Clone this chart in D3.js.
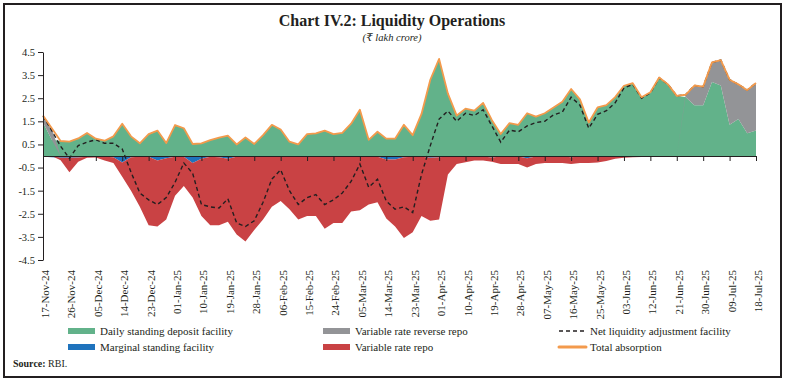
<!DOCTYPE html>
<html>
<head>
<meta charset="utf-8">
<script src="https://cdn.jsdelivr.net/npm/d3@7"></script>
<style>
body{margin:0;background:#fff;}
text{font-family:"Liberation Serif","DejaVu Serif",serif;fill:#231f20;}
</style>
</head>
<body>
<svg id="chart" width="785" height="384"></svg>
<script>
// ---------------------------------------------- DATA (lakh crore) ----------------------------------------------
var DATES = ["2024-11-17","2024-11-20","2024-11-23","2024-11-26","2024-11-29",
	"2024-12-02","2024-12-05","2024-12-08","2024-12-11","2024-12-14","2024-12-17","2024-12-20","2024-12-23","2024-12-26","2024-12-29",
	"2025-01-01","2025-01-04","2025-01-07","2025-01-10","2025-01-13","2025-01-16","2025-01-19","2025-01-22","2025-01-25","2025-01-28","2025-01-31",
	"2025-02-03","2025-02-06","2025-02-09","2025-02-12","2025-02-15","2025-02-18","2025-02-21","2025-02-24","2025-02-27",
	"2025-03-02","2025-03-05","2025-03-08","2025-03-11","2025-03-14","2025-03-17","2025-03-20","2025-03-23","2025-03-26","2025-03-29",
	"2025-04-01","2025-04-04","2025-04-07","2025-04-10","2025-04-13","2025-04-16","2025-04-19","2025-04-22","2025-04-25","2025-04-28",
	"2025-05-01","2025-05-04","2025-05-07","2025-05-10","2025-05-13","2025-05-16","2025-05-19","2025-05-22","2025-05-25","2025-05-28","2025-05-31",
	"2025-06-03","2025-06-06","2025-06-09","2025-06-12","2025-06-15","2025-06-18","2025-06-21","2025-06-24","2025-06-27","2025-06-30",
	"2025-07-03","2025-07-06","2025-07-09","2025-07-12","2025-07-15","2025-07-18"];

// daily standing deposit facility
var SDF = [1.45,0.70,0.65,0.62,0.76,1.00,0.75,0.66,0.85,1.40,
	0.85,0.55,0.95,1.10,0.56,1.34,1.20,0.52,0.55,0.69,
	0.80,0.88,0.50,0.80,0.52,0.90,1.35,1.15,0.62,0.50,
	0.95,0.98,1.10,0.95,1.00,1.40,2.00,0.70,1.05,0.75,
	0.75,1.35,0.90,1.82,3.30,4.20,2.70,1.75,2.05,1.96,
	2.30,1.55,0.95,1.42,1.35,1.85,1.70,1.85,2.10,2.35,
	2.90,2.45,1.45,2.10,2.20,2.55,3.04,3.15,2.54,2.76,
	3.40,3.10,2.60,2.55,2.20,2.20,3.20,3.05,1.35,1.60,
	0.98,1.10];

// variable rate reverse repo
var VRRR = [0.30,0.50,0,0,0,0,0,0,0,0,
	0,0,0,0,0,0,0,0,0,0,
	0,0,0,0,0,0,0,0,0,0,
	0,0,0,0,0,0,0,0,0,0,
	0,0,0,0,0,0,0,0,0,0,
	0,0,0,0,0,0,0,0,0,0,
	0,0,0,0,0,0,0,0,0,0,
	0,0,0,0.10,0.85,0.80,0.85,1.10,1.95,1.50,
	1.87,2.06];

// marginal standing facility (injection, negative)
var MSF = [-0.03,-0.05,-0.08,-0.08,-0.06,-0.03,-0.03,-0.03,-0.05,-0.28,
	-0.05,-0.03,-0.03,-0.20,-0.10,-0.03,-0.03,-0.30,-0.12,-0.03,
	-0.05,-0.12,-0.03,-0.03,-0.03,-0.03,-0.03,-0.03,-0.03,-0.03,
	-0.03,-0.03,-0.03,-0.03,-0.03,-0.03,-0.03,-0.03,-0.03,-0.15,
	-0.15,-0.05,-0.03,-0.03,-0.08,-0.05,-0.02,-0.02,-0.02,-0.02,
	-0.02,-0.06,-0.02,-0.02,-0.02,-0.10,-0.02,-0.02,-0.02,-0.02,
	-0.05,-0.02,-0.02,-0.02,-0.02,0,0,0,0,0,
	0,0,0,0,0,0,0,0,0,0,
	0,0];

// variable rate repo (injection, negative)
var VRR = [0,0,-0.10,-0.62,-0.19,-0.05,-0.04,-0.17,-0.25,-0.62,
	-1.45,-2.17,-2.97,-2.85,-2.65,-1.69,-1.27,-1.50,-2.48,-2.97,
	-2.95,-2.73,-3.37,-3.67,-3.17,-2.72,-2.17,-1.92,-2.27,-2.72,
	-2.57,-2.57,-3.12,-2.87,-2.87,-2.37,-2.32,-2.07,-1.97,-2.55,
	-2.90,-3.50,-3.27,-2.57,-2.72,-2.70,-0.78,-0.33,-0.25,-0.18,
	-0.18,-0.19,-0.33,-0.33,-0.33,-0.40,-0.33,-0.28,-0.28,-0.28,
	-0.30,-0.28,-0.28,-0.26,-0.20,-0.12,-0.08,-0.05,-0.04,-0.03,
	-0.02,0,0,0,0,0,0,0,0,0,
	0,0];

// net liquidity adjustment facility
var NET_LAF = [1.72,1.10,0.42,-0.10,0.45,0.60,0.70,0.55,0.55,0.30,
	-0.70,-1.60,-1.90,-2.10,-1.80,-1.14,-0.30,-0.75,-2.10,-2.20,
	-2.25,-1.85,-2.90,-3.05,-2.80,-2.00,-1.00,-0.60,-1.50,-2.10,
	-1.80,-1.67,-2.10,-1.90,-1.60,-1.10,-0.35,-1.35,-1.00,-1.95,
	-2.30,-2.20,-2.45,-0.80,0.45,1.60,1.95,1.50,1.85,1.75,
	2.00,1.30,0.60,1.12,1.05,1.30,1.45,1.50,1.78,1.90,
	2.55,2.20,1.20,1.80,1.96,2.30,2.95,3.10,2.50,2.73,
	3.38,3.10,2.60,2.65,3.05,3.00,4.05,4.15,3.30,3.10,
	2.85,3.16];

var TICK_DATES = ["2024-11-17","2024-11-26","2024-12-05","2024-12-14","2024-12-23","2025-01-01","2025-01-10",
	"2025-01-19","2025-01-28","2025-02-06","2025-02-15","2025-02-24","2025-03-05","2025-03-14","2025-03-23",
	"2025-04-01","2025-04-10","2025-04-19","2025-04-28","2025-05-07","2025-05-16","2025-05-25","2025-06-03",
	"2025-06-12","2025-06-21","2025-06-30","2025-07-09","2025-07-18"];
var Y_TICKS = [4.5,3.5,2.5,1.5,0.5,-0.5,-1.5,-2.5,-3.5,-4.5];

var COLOR_SDF = "#62b28a", COLOR_VRRR = "#939497", COLOR_MSF = "#1f73bd", COLOR_VRR = "#c94244";
var COLOR_TOTAL = "#f39a4c", COLOR_NET = "#231f20";

// ---------------------------------------------- CHART ----------------------------------------------
var parseDate = d3.timeParse("%Y-%m-%d");
var svg = d3.select("#chart");

var x = d3.scaleTime()
	.domain([parseDate(DATES[0]), parseDate(DATES[DATES.length-1])])
	.range([43, 756]);
var y = d3.scaleLinear().domain([-4.5, 4.5]).range([260, 52]);

var rows = DATES.map(function(d, i){
	return {date: parseDate(d), sdf: SDF[i], vrrr: VRRR[i], msf: MSF[i], vrr: VRR[i], net: NET_LAF[i]};
});

drawFrame();
drawAreas();
drawAxes();
drawLegend();


function drawFrame(){
	svg.append("rect").attr("x",4).attr("y",4).attr("width",777).attr("height",373)
		.attr("fill","#fff").attr("stroke","#231f20").attr("stroke-width",2);
	_drawText(svg,"Chart IV.2: Liquidity Operations",392,26,{"size":"16px","weight":"bold","anchor":"middle"});
	_drawText(svg,"(₹ lakh crore)",392,41,{"size":"10.5px","style":"italic","anchor":"middle"});

	var src = svg.append("text").attr("x",13).attr("y",367).style("font-size","10px");
	src.append("tspan").style("font-weight","bold").text("Source: ");
	src.append("tspan").text("RBI.");
}

function drawAreas(){
	// diverging stack: absorption above zero, injection below
	var series = d3.stack()
		.keys(["sdf","vrrr","msf","vrr"])
		.offset(d3.stackOffsetDiverging)(rows);
	var colors = {"sdf":COLOR_SDF, "vrrr":COLOR_VRRR, "msf":COLOR_MSF, "vrr":COLOR_VRR};

	var area = d3.area()
		.x(function(d){ return x(d.data.date); })
		.y0(function(d){ return y(d[0]); })
		.y1(function(d){ return y(d[1]); });

	svg.append("g").attr("id","areas").selectAll("path")
		.data(series).enter().append("path")
		.attr("d", area)
		.attr("fill", function(s){ return colors[s.key]; });

	// net LAF dashed
	var netLine = d3.line()
		.x(function(d){ return x(d.date); })
		.y(function(d){ return y(d.net); });
	svg.append("path").datum(rows)
		.attr("d", netLine)
		.attr("fill","none").attr("stroke",COLOR_NET)
		.attr("stroke-width",1.4).attr("stroke-dasharray","4,3");

	// total absorption = top of the positive stack (sdf + vrrr)
	var top = rows.map(function(r, i){
		return {date: r.date, v: Math.max(series[0][i][1], series[1][i][1])};
	});
	var totalLine = d3.line()
		.x(function(d){ return x(d.date); })
		.y(function(d){ return y(d.v); });
	svg.append("path").datum(top)
		.attr("d", totalLine)
		.attr("fill","none").attr("stroke",COLOR_TOTAL)
		.attr("stroke-width",1.8).attr("stroke-linejoin","round");
}

function drawAxes(){
	var tickDates = TICK_DATES.map(parseDate);

	// y axis
	var yAxis = svg.append("g").attr("transform","translate(43,0)")
		.call(d3.axisLeft(y).tickValues(Y_TICKS).tickSize(5).tickSizeOuter(0)
			.tickFormat(function(d){ return d.toFixed(1); }));
	yAxis.selectAll("text").style("font-size","10.5px").style("font-family",'"Liberation Serif",serif').attr("fill","#231f20");
	yAxis.selectAll("line,path").attr("stroke","#231f20");

	// zero line with ticks
	var zAxis = svg.append("g").attr("transform","translate(0,"+y(0)+")")
		.call(d3.axisBottom(x).tickValues(tickDates).tickSize(5).tickSizeOuter(0).tickFormat(""));
	zAxis.selectAll("line,path").attr("stroke","#231f20");

	// date labels at the bottom
	var fmt = d3.timeFormat("%d-%b-%y");
	var lAxis = svg.append("g").attr("transform","translate(0,266)")
		.call(d3.axisBottom(x).tickValues(tickDates).tickSize(0).tickFormat(fmt));
	lAxis.select(".domain").remove();
	lAxis.selectAll("text")
		.attr("transform","rotate(-90)")
		.attr("x",-4).attr("y",0).attr("dy","0.5em")
		.style("text-anchor","end")
		.style("font-size","11px").style("font-family",'"Liberation Serif",serif').attr("fill","#231f20");
}

function drawLegend(){
	var items = [
		{"text":"Daily standing deposit facility","type":"rect","color":COLOR_SDF,"x":68,"y":331},
		{"text":"Variable rate reverse repo","type":"rect","color":COLOR_VRRR,"x":323,"y":331},
		{"text":"Net liquidity adjustment facility","type":"dash","color":COLOR_NET,"x":559,"y":331},
		{"text":"Marginal standing facility","type":"rect","color":COLOR_MSF,"x":68,"y":347},
		{"text":"Variable rate repo","type":"rect","color":COLOR_VRR,"x":323,"y":347},
		{"text":"Total absorption","type":"line","color":COLOR_TOTAL,"x":559,"y":347}
	];
	var g = svg.append("g").attr("id","legend");
	items.forEach(function(it){
		if (it.type=="rect"){
			g.append("rect").attr("x",it.x).attr("y",it.y-3).attr("width",27).attr("height",6).attr("fill",it.color);
		}
		else if (it.type=="dash"){
			g.append("line").attr("x1",it.x).attr("x2",it.x+26).attr("y1",it.y).attr("y2",it.y)
				.attr("stroke",it.color).attr("stroke-width",1.6).attr("stroke-dasharray","4,3");
		}
		else {
			g.append("line").attr("x1",it.x).attr("x2",it.x+27).attr("y1",it.y).attr("y2",it.y)
				.attr("stroke",it.color).attr("stroke-width",3).attr("stroke-linecap","round");
		}
		_drawText(g,it.text,it.x+(it.type=="rect"?32:31),it.y+3.5,{"size":"11px","anchor":"start"});
	});
}

/* ---------------- helpers ---------------- */
function _drawText(parent,text,x,y,opt){
	var t = parent.append("text").attr("x",x).attr("y",y).text(text);
	if (opt.size) t.style("font-size",opt.size);
	if (opt.weight) t.style("font-weight",opt.weight);
	if (opt.style) t.style("font-style",opt.style);
	if (opt.anchor) t.style("text-anchor",opt.anchor);
	return t;
}
</script>
</body>
</html>
